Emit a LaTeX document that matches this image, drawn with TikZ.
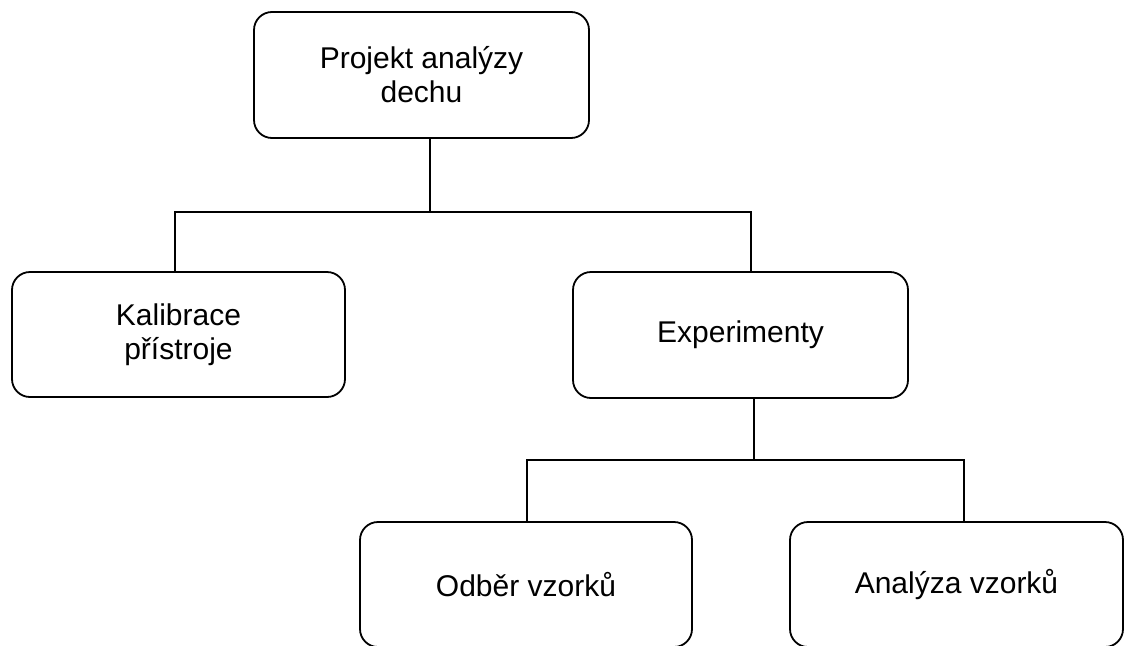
\documentclass[tikz,border=0pt]{standalone}
\usepackage{fontspec}
\setmainfont{Liberation Sans}
\begin{document}
\begin{tikzpicture}[x=1pt,y=-1pt,
  box/.style={draw=black, line width=1.8pt, rounded corners=18pt, fill=white,
    minimum width=333pt, minimum height=125pt, inner sep=0pt,
    align=center, font=\fontsize{30}{34}\selectfont},
  link/.style={draw=black, line width=1.8pt}]
  \useasboundingbox (0,0) rectangle (1126,645);
  \clip (0,0) rectangle (1126,645);

  % boxes of the tree
  \node[box, minimum width=335pt, minimum height=126pt] (top) at (421.5,75)
    {Projekt analýzy\\dechu};
  \node[box] (kal) at (178.5,334.5) {Kalibrace\\přístroje};
  \node[box, minimum width=335pt, minimum height=126pt] (exp) at (740.5,335)
    {Experimenty};
  \node[box, minimum width=332pt] (odb) at (526,584.5) {Odběr vzorků};
  \node[box] (ana) at (956.5,584.5) {Analýza vzorků};

  % branch points
  \coordinate (b1) at (430,212);
  \coordinate (b2) at (753.7,460);

  % first level
  \draw[link] (top.south -| b1) -- (b1);
  \draw[link] ([xshift=-3.2pt]kal.north) |- (b1) -| ([xshift=10.2pt]exp.north);

  % second level
  \draw[link] (exp.south -| b2) -- (b2);
  \draw[link] ([xshift=0.7pt]odb.north) |- (b2) -| ([xshift=7.5pt]ana.north);
\end{tikzpicture}
\end{document}
